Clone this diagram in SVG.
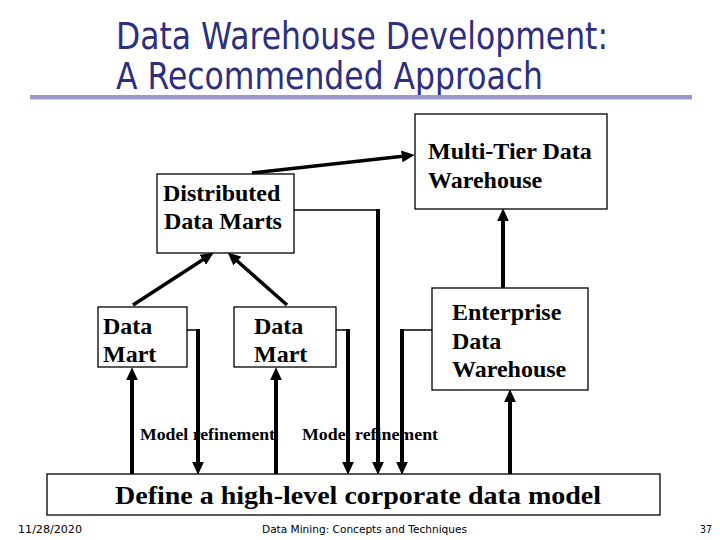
<svg xmlns="http://www.w3.org/2000/svg" width="720" height="540" viewBox="0 0 720 540">
<defs>
<style>
.title{font-family:"DejaVu Sans","Liberation Sans",sans-serif;font-size:37px;fill:#2e2e80}
.box{fill:#fff;stroke:#000;stroke-width:1.3}
.lbl{font-family:"Liberation Serif","Times New Roman",serif;font-weight:bold;font-size:24px;fill:#000}
.small{font-family:"Liberation Serif","Times New Roman",serif;font-weight:bold;font-size:16px;fill:#000}
.foot{font-family:"DejaVu Sans","Liberation Sans",sans-serif;font-size:11px;fill:#000}
.thick{stroke:#000;stroke-width:4;fill:none}
.diag{stroke:#000;stroke-width:3.5;fill:none}
.thin{stroke:#000;stroke-width:1.5;fill:none}
.arr{marker-end:url(#ah)}
</style>
<marker id="ah" markerUnits="userSpaceOnUse" markerWidth="13" markerHeight="12" refX="3" refY="5.5" orient="auto" viewBox="0 0 12 11">
<path d="M0,0 L12,5.5 L0,11 z" fill="#000"/>
</marker>
</defs>
<rect width="720" height="540" fill="#fff"/>
<g id="title">
<text class="title" x="116" y="49" textLength="492" lengthAdjust="spacingAndGlyphs">Data Warehouse Development:</text>
<text class="title" x="116" y="89" textLength="427" lengthAdjust="spacingAndGlyphs">A Recommended Approach</text>
<rect x="30" y="95" width="662" height="4.5" fill="#9999cc"/>
</g>
<g id="connectors">
<line class="diag arr" x1="252" y1="173" x2="405" y2="156"/>
<line class="diag arr" x1="133" y1="305" x2="205.5" y2="258"/>
<line class="diag arr" x1="287" y1="305" x2="235" y2="259"/>
<line class="thick arr" x1="132" y1="474" x2="132" y2="377"/>
<polyline class="thin" points="187,330 198,330"/>
<line class="thick arr" x1="198" y1="329" x2="198" y2="465"/>
<line class="thick arr" x1="276" y1="474" x2="276" y2="377"/>
<polyline class="thin" points="336,330 348,330"/>
<line class="thick arr" x1="348" y1="329" x2="348" y2="465"/>
<polyline class="thin" points="294,210 378,210"/>
<line class="thick arr" x1="378" y1="209" x2="378" y2="465"/>
<polyline class="thin" points="432,330 402,330"/>
<line class="thick arr" x1="402" y1="329" x2="402" y2="465"/>
<line class="thick arr" x1="503" y1="288" x2="503" y2="218"/>
<line class="thick arr" x1="510" y1="474" x2="510" y2="399"/>
</g>
<g id="multi-tier">
<rect class="box" x="415" y="114" width="192" height="95"/>
<text class="lbl" x="428" y="159">Multi-Tier Data</text>
<text class="lbl" x="428" y="188">Warehouse</text>
</g>
<g id="distributed">
<rect class="box" x="157" y="174" width="137" height="79"/>
<text class="lbl" x="163" y="201">Distributed</text>
<text class="lbl" x="164" y="229">Data Marts</text>
</g>
<g id="data-mart-1">
<rect class="box" x="98" y="307" width="89" height="60"/>
<text class="lbl" x="103" y="334">Data</text>
<text class="lbl" x="103" y="362">Mart</text>
</g>
<g id="data-mart-2">
<rect class="box" x="234" y="307" width="102" height="60"/>
<text class="lbl" x="254" y="334">Data</text>
<text class="lbl" x="254" y="362">Mart</text>
</g>
<g id="enterprise">
<rect class="box" x="432" y="288" width="156" height="102"/>
<text class="lbl" x="452" y="320">Enterprise</text>
<text class="lbl" x="452" y="349">Data</text>
<text class="lbl" x="452" y="377">Warehouse</text>
</g>
<g id="labels">
<text class="small" x="140" y="440" textLength="135" lengthAdjust="spacingAndGlyphs">Model refinement</text>
<text class="small" x="302" y="440" textLength="136" lengthAdjust="spacingAndGlyphs">Model refinement</text>
</g>
<g id="corporate-model">
<rect class="box" x="47" y="474" width="613" height="41"/>
<text class="lbl" x="115" y="504" font-size="25" textLength="486" lengthAdjust="spacingAndGlyphs" style="font-size:25px">Define a high-level corporate data model</text>
</g>
<g id="footer">
<text class="foot" x="18" y="533" textLength="64" lengthAdjust="spacingAndGlyphs">11/28/2020</text>
<text class="foot" x="262" y="533" textLength="205" lengthAdjust="spacingAndGlyphs">Data Mining: Concepts and Techniques</text>
<text class="foot" x="700" y="533" textLength="12" lengthAdjust="spacingAndGlyphs">37</text>
</g>
</svg>
